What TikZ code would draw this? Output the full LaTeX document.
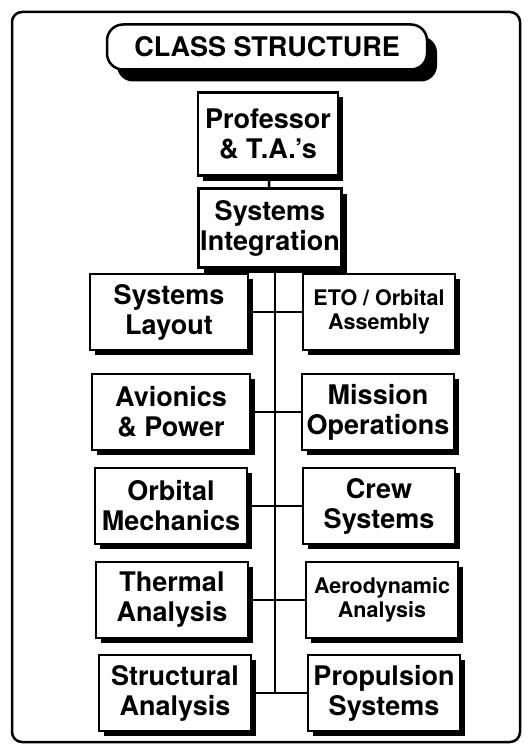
\documentclass[tikz,border=0pt]{standalone}
\usepackage{fontspec}
\setmainfont{TeX Gyre Heros}
\usetikzlibrary{shadows}
\begin{document}
\begin{tikzpicture}[
  x=1pt, y=-1pt,
  frame/.style={draw, line width=2.5pt, rounded corners=10pt},
  title/.style={draw, line width=2.5pt, rounded corners=16pt, fill=white, font=\fontsize{27}{30}\selectfont\bfseries, minimum width=320pt, minimum height=45pt, inner sep=0pt, drop shadow={shadow xshift=10pt, shadow yshift=-12pt, opacity=1, fill=black}},
  unit/.style={draw, line width=2.5pt, fill=white, align=center, inner sep=0pt, font=\fontsize{27}{30}\selectfont\bfseries, minimum width=152pt, minimum height=76pt, drop shadow={shadow xshift=5pt, shadow yshift=-5pt, opacity=1, fill=black}},
  unitsmall/.style={unit, font=\fontsize{21.5}{24}\selectfont\bfseries},
  link/.style={line width=2.5pt}
]
\useasboundingbox (0,0) rectangle (532,749);
\draw[frame] (12,12) rectangle (520,742);

\node[title] (head) at (267,47) {CLASS STRUCTURE};
\node[unit, minimum width=140pt, minimum height=83pt] (prof) at (268,134) {Professor\\\& T.A.'s};
\node[unit, minimum width=143pt, minimum height=79pt] (sysint) at (270,228) {Systems\\Integration};

% left column
\node[unit, minimum width=158pt] (layout) at (169,312) {Systems\\Layout};
\node[unit, minimum width=158pt] (avionics) at (171,412) {Avionics\\\& Power};
\node[unit] (orbital) at (171,506) {Orbital\\Mechanics};
\node[unit] (thermal) at (172,600) {Thermal\\Analysis};
\node[unit] (structural) at (175,693) {Structural\\Analysis};

% right column
\node[unitsmall] (eto) at (379,312) {ETO / Orbital\\Assembly};
\node[unit] (mission) at (378,412) {Mission\\Operations};
\node[unit] (crew) at (379,506) {Crew\\Systems};
\node[unitsmall] (aero) at (382,600) {Aerodynamic\\Analysis};
\node[unit] (propulsion) at (384,693) {Propulsion\\Systems};

\coordinate (spine) at (275,693);

\draw[link] (prof) -- (sysint);
\draw[link] (sysint.south -| spine) -- (spine);
\draw[link] (layout) -- (eto);
\draw[link] (avionics) -- (mission);
\draw[link] (orbital) -- (crew);
\draw[link] (thermal) -- (aero);
\draw[link] (structural) -- (propulsion);
\end{tikzpicture}
\end{document}
